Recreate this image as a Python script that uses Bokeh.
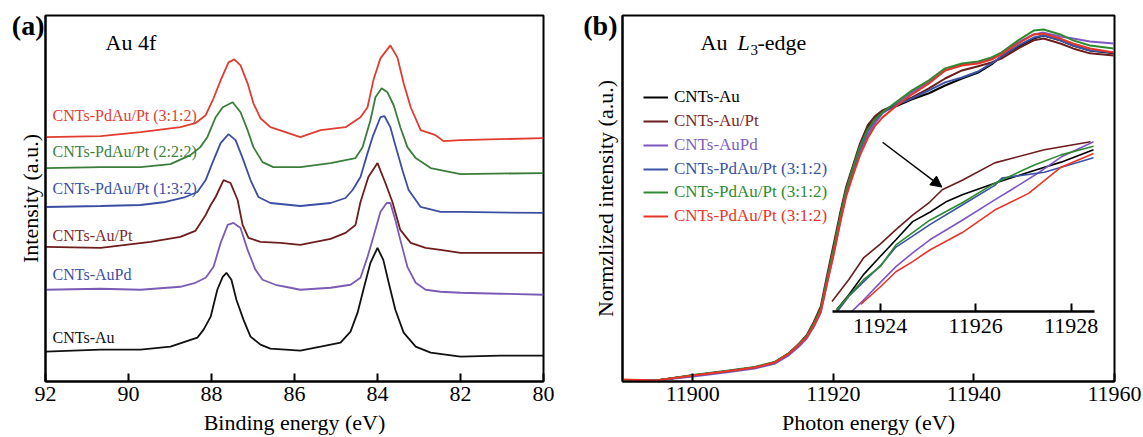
from bokeh.plotting import figure
from bokeh.models import (Range1d, FixedTicker, LinearAxis, Label, Legend, LegendItem,
                          Arrow, NormalHead)
from bokeh.layouts import row
from bokeh.embed import file_html
from bokeh.resources import INLINE

FONT = "Liberation Serif"

# ---------------- Panel (a): XPS Au 4f ----------------
a_ticks = [92, 90, 88, 86, 84, 82, 80]

E_au = [92.00, 90.67, 89.71, 88.99, 88.63, 88.34, 88.19, 88.02, 87.86, 87.73, 87.64, 87.52, 87.40, 87.23,
        87.06, 86.82, 86.58, 85.86, 85.37, 84.89, 84.65, 84.48, 84.34, 84.17, 84.00, 83.86, 83.73, 83.57,
        83.37, 83.08, 82.72, 82.00, 81.04, 80.00]
I_au = [30, 32, 32, 35, 40, 44, 52, 65, 92, 105, 109, 102, 82, 62, 45, 37, 33, 31, 35, 39, 50, 69, 92,
        119, 134, 122, 99, 72, 49, 35, 29, 25, 26, 26]

E_aupd = [92.00, 90.67, 89.71, 88.75, 88.39, 88.14, 87.95, 87.78, 87.61, 87.47, 87.30, 87.13, 86.94, 86.77,
          86.46, 86.10, 85.86, 85.13, 84.65, 84.41, 84.24, 84.10, 83.93, 83.78, 83.69, 83.57, 83.45, 83.28,
          83.08, 82.84, 82.48, 82.00, 81.04, 80.00]
I_aupd = [92, 93, 92, 95, 99, 104, 115, 139, 157, 159, 154, 132, 112, 102, 97, 94, 92, 94, 97, 104, 125,
          145, 170, 179, 179, 162, 142, 115, 99, 92, 90, 89, 88, 87]

E_aupt = [92.00, 90.67, 89.47, 88.75, 88.39, 88.14, 88.02, 87.90, 87.71, 87.54, 87.37, 87.25, 87.11, 86.82,
          86.34, 85.86, 85.13, 84.77, 84.53, 84.41, 84.22, 84.00, 83.81, 83.64, 83.45, 83.20, 82.84, 82.48,
          82.00, 80.00]
I_aupt = [135, 134, 140, 145, 151, 167, 177, 185, 202, 199, 182, 157, 144, 140, 139, 137, 143, 149, 157,
          180, 205, 219, 199, 180, 152, 139, 134, 132, 129, 129]

E_132 = [92.00, 90.67, 89.71, 89.11, 88.63, 88.34, 88.14, 87.98, 87.78, 87.59, 87.42, 87.25, 87.06, 86.87,
         86.58, 85.86, 85.13, 84.77, 84.60, 84.41, 84.24, 84.12, 83.93, 83.83, 83.69, 83.57, 83.40, 83.25,
         82.96, 82.48, 82.00, 80.00]
I_132 = [175, 176, 177, 180, 185, 190, 202, 219, 239, 248, 242, 224, 202, 185, 179, 176, 179, 184, 192,
         205, 229, 245, 265, 266, 255, 237, 212, 192, 175, 170, 170, 169]

E_222 = [92.00, 90.67, 89.71, 88.99, 88.51, 88.27, 88.10, 87.90, 87.73, 87.49, 87.30, 87.13, 86.99, 86.77,
         86.51, 85.86, 85.13, 84.53, 84.36, 84.17, 84.05, 83.90, 83.76, 83.61, 83.45, 83.28, 83.08, 82.72,
         82.00, 80.00]
I_222 = [214, 215, 215, 218, 227, 235, 245, 265, 275, 280, 270, 252, 235, 220, 215, 215, 219, 224, 235,
         262, 285, 294, 290, 277, 255, 235, 224, 214, 208, 209]

E_312 = [92.00, 90.67, 89.71, 88.75, 88.39, 88.14, 87.95, 87.78, 87.59, 87.45, 87.30, 87.13, 86.99, 86.82,
         86.58, 86.22, 85.86, 85.37, 84.77, 84.41, 84.24, 84.10, 83.93, 83.69, 83.52, 83.37, 83.20, 82.96,
         82.60, 82.41, 82.00, 80.00]
I_312 = [245, 246, 250, 255, 259, 267, 284, 302, 320, 323, 317, 299, 279, 264, 255, 250, 245, 252, 255,
         265, 275, 302, 324, 337, 325, 299, 275, 252, 247, 241, 242, 244]

a_labels = ["CNTs-PdAu/Pt (3:1:2)", "CNTs-PdAu/Pt (2:2:2)", "CNTs-PdAu/Pt (1:3:2)",
            "CNTs-Au/Pt", "CNTs-AuPd", "CNTs-Au"]

# ---------------- Panel (b): XANES Au L3-edge ----------------
b_ticks = [11900, 11920, 11940, 11960]
E_b = [11890.0, 11894.8, 11900.0, 11904.6, 11908.8, 11911.6, 11913.7, 11915.1, 11916.2, 11917.2, 11918.2,
       11919.0, 11920.0, 11921.0, 11921.8, 11922.8, 11923.8, 11924.9, 11925.9, 11927.0, 11928.9, 11931.2,
       11933.6, 11935.9, 11938.3, 11940.6, 11942.5, 11943.9, 11946.3, 11948.5, 11949.9, 11952.3, 11954.1,
       11956.5, 11959.9]
mu_au = [0.000, 0.000, 0.019, 0.035, 0.050, 0.069, 0.104, 0.138, 0.169, 0.215, 0.273, 0.377, 0.504, 0.638,
         0.735, 0.823, 0.908, 0.977, 1.012, 1.038, 1.058, 1.085, 1.108, 1.138, 1.165, 1.188, 1.219, 1.250,
         1.288, 1.319, 1.331, 1.312, 1.292, 1.273, 1.262]
mu_aupt = [0.000, 0.000, 0.019, 0.035, 0.050, 0.069, 0.106, 0.142, 0.175, 0.225, 0.285, 0.392, 0.520, 0.650,
           0.745, 0.830, 0.915, 0.985, 1.019, 1.042, 1.065, 1.092, 1.127, 1.165, 1.196, 1.212, 1.227, 1.242,
           1.281, 1.312, 1.319, 1.300, 1.281, 1.262, 1.254]
mu_aupd = [0.000, 0.000, 0.015, 0.031, 0.046, 0.064, 0.098, 0.131, 0.162, 0.206, 0.262, 0.362, 0.485, 0.615,
           0.715, 0.804, 0.881, 0.946, 0.992, 1.031, 1.065, 1.112, 1.150, 1.196, 1.219, 1.227, 1.242, 1.262,
           1.304, 1.335, 1.342, 1.327, 1.319, 1.308, 1.300]
mu_blue = [0.000, 0.000, 0.019, 0.035, 0.050, 0.069, 0.104, 0.138, 0.169, 0.215, 0.273, 0.375, 0.500, 0.632,
           0.730, 0.818, 0.896, 0.962, 1.004, 1.035, 1.062, 1.088, 1.119, 1.150, 1.169, 1.192, 1.223, 1.250,
           1.292, 1.323, 1.331, 1.312, 1.292, 1.273, 1.265]
mu_green = [0.000, 0.000, 0.021, 0.037, 0.052, 0.071, 0.106, 0.140, 0.171, 0.217, 0.275, 0.377, 0.502, 0.634,
            0.732, 0.820, 0.904, 0.969, 1.008, 1.035, 1.073, 1.119, 1.158, 1.204, 1.223, 1.231, 1.246, 1.265,
            1.312, 1.350, 1.354, 1.335, 1.312, 1.292, 1.281]
mu_red = [0.004, 0.000, 0.019, 0.035, 0.050, 0.069, 0.104, 0.138, 0.167, 0.210, 0.265, 0.362, 0.480, 0.612,
          0.708, 0.792, 0.869, 0.935, 0.981, 1.015, 1.058, 1.104, 1.146, 1.196, 1.215, 1.223, 1.238, 1.258,
          1.300, 1.335, 1.338, 1.319, 1.300, 1.281, 1.265]

# inset (zoom of the edge)
inset_ticks = [11924, 11926, 11928]
ix_aupt = [11922.99, 11923.34, 11923.65, 11924.00, 11924.33, 11924.68, 11925.04, 11925.30, 11925.72,
           11926.40, 11927.44, 11928.41]
iy_aupt = [0.814, 0.844, 0.874, 0.893, 0.913, 0.933, 0.951, 0.968, 0.981, 1.005, 1.023, 1.034]
ix_au = [11923.09, 11923.34, 11923.65, 11924.00, 11924.33, 11924.68, 11925.04, 11925.37, 11925.72, 11926.40,
         11927.11, 11927.79, 11928.47]
iy_au = [0.803, 0.823, 0.851, 0.876, 0.899, 0.924, 0.937, 0.951, 0.961, 0.977, 0.992, 1.006, 1.023]
ix_green = [11923.07, 11923.34, 11923.65, 11924.00, 11924.33, 11924.68, 11925.04, 11925.72, 11926.40,
            11927.23, 11927.79, 11928.47]
iy_green = [0.801, 0.822, 0.844, 0.862, 0.892, 0.909, 0.926, 0.950, 0.977, 1.002, 1.016, 1.028]
ix_blue = [11923.11, 11923.34, 11923.65, 11924.00, 11924.33, 11924.68, 11925.04, 11925.72, 11926.40,
           11926.55, 11927.44, 11928.47]
iy_blue = [0.801, 0.821, 0.841, 0.863, 0.889, 0.904, 0.920, 0.947, 0.974, 0.984, 0.992, 1.012]
ix_aupd = [11923.40, 11923.65, 11924.00, 11924.33, 11924.68, 11925.04, 11925.72, 11926.40, 11926.75,
           11927.31, 11927.79, 11928.47]
iy_aupd = [0.800, 0.816, 0.840, 0.862, 0.881, 0.899, 0.926, 0.954, 0.968, 0.991, 1.013, 1.034]
ix_red = [11923.59, 11924.00, 11924.33, 11924.68, 11925.04, 11925.72, 11926.40, 11927.11, 11927.79, 11928.47]
iy_red = [0.810, 0.834, 0.855, 0.869, 0.885, 0.909, 0.940, 0.963, 0.999, 1.018]

b_labels = ["CNTs-Au", "CNTs-Au/Pt", "CNTs-AuPd", "CNTs-PdAu/Pt (3:1:2)",
            "CNTs-PdAu/Pt (3:1:2)", "CNTs-PdAu/Pt (3:1:2)"]


def base_style(p):
    p.grid.visible = False
    p.outline_line_color = "black"
    p.outline_line_width = 2
    p.outline_line_alpha = 1
    p.background_fill_color = "white"
    p.border_fill_color = "white"


def style_xaxis(ax, ticks):
    ax.ticker = FixedTicker(ticks=ticks)
    ax.major_tick_in = 8
    ax.major_tick_out = 0
    ax.minor_tick_in = 0
    ax.minor_tick_out = 0
    ax.major_tick_line_width = 2
    ax.axis_line_width = 2
    ax.major_label_standoff = 5
    ax.major_label_text_font = FONT
    ax.major_label_text_font_size = "22px"
    ax.major_label_text_color = "black"
    ax.axis_label_text_font = FONT
    ax.axis_label_text_font_size = "22px"
    ax.axis_label_text_font_style = "normal"
    ax.axis_label_text_color = "black"
    ax.axis_label_standoff = 6


def style_yaxis(ax, standoff):
    ax.ticker = FixedTicker(ticks=[])
    ax.major_tick_in = 0
    ax.major_tick_out = 0
    ax.minor_tick_in = 0
    ax.minor_tick_out = 0
    ax.axis_line_width = 2
    ax.major_label_standoff = 0
    ax.axis_label_text_font = FONT
    ax.axis_label_text_font_size = "22px"
    ax.axis_label_text_font_style = "normal"
    ax.axis_label_text_color = "black"
    ax.axis_label_standoff = standoff


def panel_tag(text, range_name, standoff):
    # panel letter drawn as the single tick label of an outer, line-less left axis
    tag = LinearAxis(ticker=FixedTicker(ticks=[357]), major_label_overrides={357: text})
    if range_name is not None:
        tag.y_range_name = range_name
    tag.axis_line_color = None
    tag.major_tick_line_color = None
    tag.minor_tick_line_color = None
    tag.major_tick_in = 0
    tag.major_tick_out = 0
    tag.minor_tick_in = 0
    tag.minor_tick_out = 0
    tag.major_label_standoff = standoff
    tag.major_label_text_font = FONT
    tag.major_label_text_font_size = "28px"
    tag.major_label_text_font_style = "bold"
    tag.major_label_text_color = "black"
    return tag


# ---------- figure (a) ----------
pa = figure(width=580, height=437, x_range=Range1d(92, 80), y_range=Range1d(0, 367),
            output_backend="svg", toolbar_location=None,
            min_border_left=45, min_border_right=37, min_border_top=15, min_border_bottom=55)
base_style(pa)
style_xaxis(pa.xaxis[0], a_ticks)
pa.xaxis[0].axis_label = "Binding energy (eV)"
style_yaxis(pa.yaxis[0], 3)
pa.yaxis[0].axis_label = "Intensity (a.u.)"
pa.add_layout(panel_tag("(a)", None, -30), "left")

a_series = [
    (E_au, I_au, "#111111"),
    (E_aupd, I_aupd, "#7b5bb5"),
    (E_aupt, I_aupt, "#6e1d1d"),
    (E_132, I_132, "#3b4ea3"),
    (E_222, I_222, "#3b7d3b"),
    (E_312, I_312, "#e03c31"),
]
for E, I, c in a_series:
    pa.line(E, I, line_color=c, line_width=1.8)

a_label_pos = [267, 231, 194, 146, 107, 44]
a_label_col = ["#dd3e33", "#3e7f3e", "#3b4fa6", "#7b2a2a", "#3b4fa6", "#111111"]
for txt, yv, c in zip(a_labels, a_label_pos, a_label_col):
    pa.add_layout(Label(x=91.83, y=yv, text=txt, text_font=FONT, text_font_size="16px",
                        text_color=c, text_baseline="middle", text_align="left"))

pa.add_layout(Label(x=60, y=339, x_units="screen", y_units="screen", text="Au 4f",
                    text_font=FONT, text_font_size="22px", text_color="black",
                    text_baseline="middle"))

# ---------- figure (b) ----------
pb = figure(width=563, height=437, x_range=Range1d(11890, 11960), y_range=Range1d(-0.004, 1.408),
            output_backend="svg", toolbar_location=None,
            min_border_left=36, min_border_right=29, min_border_top=15, min_border_bottom=55)
base_style(pb)
style_xaxis(pb.xaxis[0], b_ticks)
pb.xaxis[0].axis_label = "Photon energy (eV)"
style_yaxis(pb.yaxis[0], 5)
pb.yaxis[0].axis_label = "Normzlized intensity (a.u.)"

pb.extra_x_ranges = {"ix": Range1d(11918.6, 11928.91)}
pb.extra_y_ranges = {"iy": Range1d(0.7038, 1.2080), "tag": Range1d(0, 367)}
pb.add_layout(panel_tag("(b)", "tag", -28), "left")

b_cols = ["#000000", "#6b1d1d", "#7e57c2", "#3a53a4", "#2f8a2f", "#e8352b"]
b_lab_cols = ["#000000", "#7b2a2a", "#8060c0", "#3a53a4", "#2f8a2f", "#e8352b"]
b_main = [mu_au, mu_aupt, mu_aupd, mu_blue, mu_green, mu_red]
b_inset = [(ix_au, iy_au), (ix_aupt, iy_aupt), (ix_aupd, iy_aupd), (ix_blue, iy_blue),
           (ix_green, iy_green), (ix_red, iy_red)]

renderers = []
for mu, c in zip(b_main, b_cols):
    renderers.append(pb.line(E_b, mu, line_color=c, line_width=2))
for (ix, iy), c in zip(b_inset, b_cols):
    pb.line(ix, iy, line_color=c, line_width=1.6, x_range_name="ix", y_range_name="iy")

inset_axis = LinearAxis(x_range_name="ix", y_range_name="iy", fixed_location=0.80,
                        bounds=(11923, 11928.5), ticker=FixedTicker(ticks=inset_ticks))
inset_axis.major_tick_in = 8
inset_axis.major_tick_out = 0
inset_axis.minor_tick_in = 0
inset_axis.minor_tick_out = 0
inset_axis.major_tick_line_width = 2
inset_axis.axis_line_width = 2.5
inset_axis.major_label_standoff = 7
inset_axis.major_label_text_font = FONT
inset_axis.major_label_text_font_size = "22px"
inset_axis.major_label_text_color = "black"
pb.add_layout(inset_axis, "below")

pb.add_layout(Arrow(end=NormalHead(size=11, fill_color="black", line_color="black", line_width=1),
                    x_start=11927.0, y_start=0.919, x_end=11935.45, y_end=0.746,
                    line_color="black", line_width=1.5))

leg_y = [274, 250, 226, 202, 179, 155]
for r, txt, c, yv in zip(renderers, b_labels, b_lab_cols, leg_y):
    leg = Legend(items=[LegendItem(label=txt, renderers=[r])], location=(21, yv),
                 padding=0, margin=0, spacing=0, border_line_color=None,
                 background_fill_alpha=0, glyph_width=25, glyph_height=20, label_height=20,
                 label_standoff=6, label_text_font=FONT, label_text_font_size="17px",
                 label_text_color=c)
    pb.add_layout(leg)

pb.add_layout(Label(x=78, y=339, x_units="screen", y_units="screen", text="Au",
                    text_font=FONT, text_font_size="22px", text_color="black", text_baseline="middle"))
pb.add_layout(Label(x=115, y=339, x_units="screen", y_units="screen", text="L",
                    text_font=FONT, text_font_size="22px", text_font_style="italic",
                    text_color="black", text_baseline="middle"))
pb.add_layout(Label(x=128, y=332, x_units="screen", y_units="screen", text="3",
                    text_font=FONT, text_font_size="15px", text_color="black", text_baseline="middle"))
pb.add_layout(Label(x=135, y=339, x_units="screen", y_units="screen", text="-edge",
                    text_font=FONT, text_font_size="22px", text_color="black", text_baseline="middle"))

layout = row(pa, pb)
open("out.html", "w").write(file_html(layout, INLINE))
